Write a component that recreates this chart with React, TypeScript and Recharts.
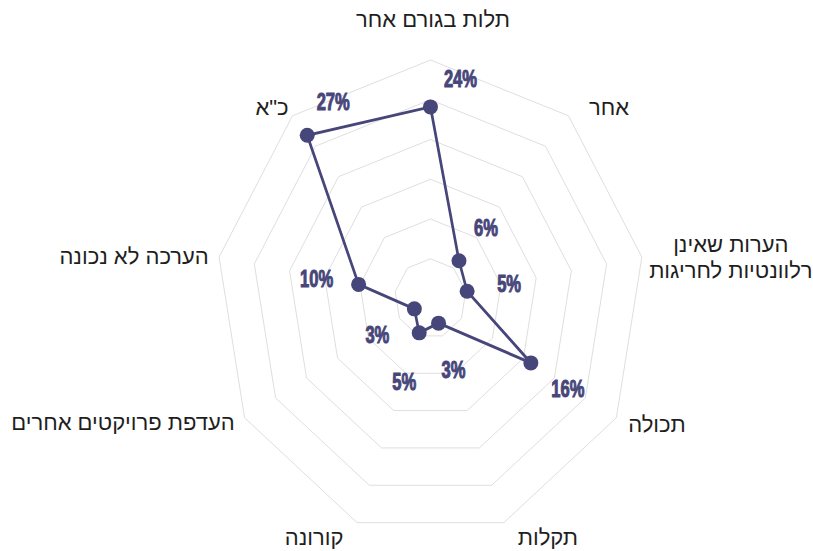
import React from 'react';
import { RadarChart, Radar, PolarGrid, PolarAngleAxis, PolarRadiusAxis } from 'recharts';

// categories clockwise from the top
const categories = [
  'תלות בגורם אחר',
  'אחר',
  'הערות שאינן\nרלוונטיות לחריגות',
  'תכולה',
  'תקלות',
  'קורונה',
  'העדפת פרויקטים אחרים',
  'הערכה לא נכונה',
  'כ"א',
];

// share of cases, %
const values = [24.1, 6.2, 5.2, 16.2, 3.3, 4.6, 2.6, 10.2, 26.8];

const radiusDomain = [0, 30];

const data = categories.map((name, i) => ({ name, value: values[i] }));

// the original is squeezed horizontally
const SX = 0.9;
const W = 904;
const H = 551;
const CX = 478.3;
const CY = 298.5;
const R = 238.5;
const COLOR = '#47467a';

// label offsets in screen px
const nameOffsets = [
  [2.5, -32.7], [40.5, -1], [89, -5], [40.6, 14], [44, 22],
  [-43, 22], [-121.6, 12], [-85, 7], [-20.5, -1],
];
const valueOffsets = [
  [30, -28], [27, -33], [42, -7], [37, 26], [15, 47],
  [-15, 49], [-37, 26], [-42, -5], [26, -33],
];

function NameTick(props: any) {
  const i = props.index;
  const a = ((90 - (i * 360) / categories.length) * Math.PI) / 180;
  const vx = CX + R * Math.cos(a);
  const vy = CY - R * Math.sin(a);
  const [dx, dy] = nameOffsets[i];
  const lines = String(props.payload.value).split('\n');
  return (
    <g transform={`translate(${vx + dx / SX},${vy + dy}) scale(${1 / SX},1)`}>
      <text textAnchor="middle" fontSize={22} fill="#1e1e1e" fontFamily="'Liberation Sans', Arial, sans-serif">
        {lines.map((l, k) => (
          <tspan key={k} x={0} y={k * 26}>{l}</tspan>
        ))}
      </text>
    </g>
  );
}

function ValueLabel(props: any) {
  const i = props.index;
  const [dx, dy] = valueOffsets[i];
  return (
    <g transform={`translate(${props.x + dx / SX},${props.y + dy}) scale(0.8,1)`}>
      <text
        x={0}
        y={0}
        textAnchor="middle"
        dominantBaseline="central"
        fontSize={23}
        fontWeight="bold"
        fill={COLOR}
        stroke={COLOR}
        strokeWidth={1}
        fontFamily="'Liberation Sans', Arial, sans-serif"
      >
        {Math.round(values[i])}%
      </text>
    </g>
  );
}

function Dot(props: any) {
  return <ellipse cx={props.cx} cy={props.cy} rx={7.5 / SX} ry={7.5} fill={COLOR} />;
}

export default function App() {
  return (
    <div style={{ position: 'absolute', left: 0, top: 0, width: 813, height: H, overflow: 'hidden', background: '#fff' }}>
      <div style={{ width: W, height: H, transform: `scaleX(${SX})`, transformOrigin: '0 0' }}>
        <RadarChart width={W} height={H} cx={CX} cy={CY} outerRadius={R} data={data}>
          <PolarGrid gridType="polygon" radialLines={false} stroke="#dcdcdc" />
          <PolarAngleAxis dataKey="name" tick={NameTick} tickLine={false} axisLine={false} />
          <PolarRadiusAxis domain={radiusDomain} tickCount={7} tick={false} axisLine={false} />
          <Radar
            dataKey="value"
            stroke={COLOR}
            strokeWidth={3}
            fill="none"
            fillOpacity={0}
            dot={Dot}
            activeDot={false}
            label={ValueLabel}
            isAnimationActive={false}
          />
        </RadarChart>
      </div>
    </div>
  );
}
